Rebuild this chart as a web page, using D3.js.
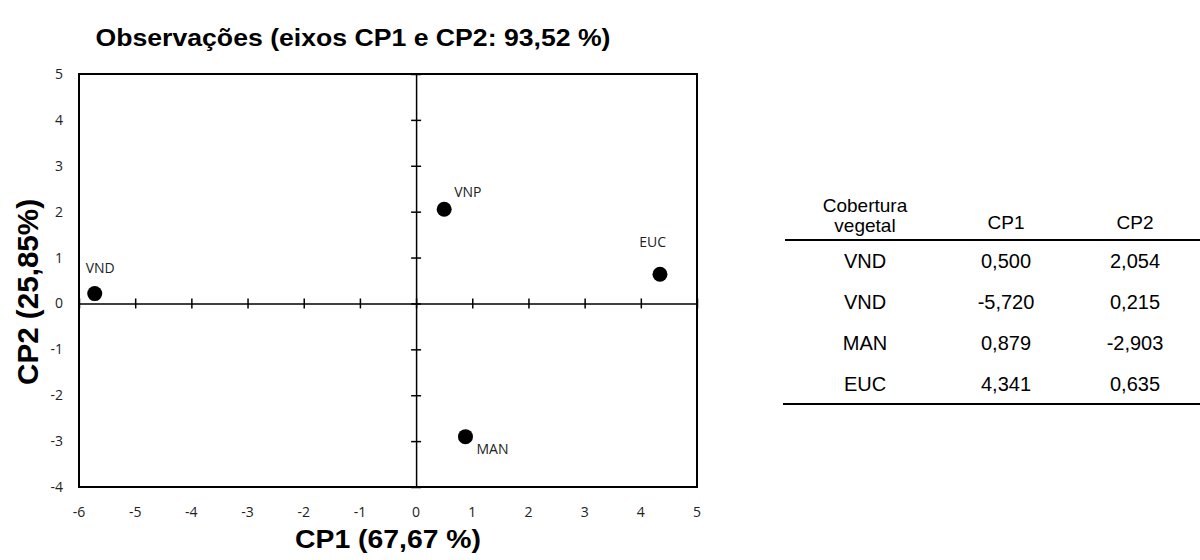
<!DOCTYPE html>
<html>
<head>
<meta charset="utf-8">
<script src="https://cdn.jsdelivr.net/npm/d3@7/dist/d3.min.js"></script>
<style>
  html, body { margin: 0; padding: 0; background: #fff; }
  svg { display: block; }
</style>
</head>
<body>
<svg id="chart" width="1200" height="560"></svg>
<script>
// PCA scores of the vegetation covers on the first two components
const labels = ["VNP", "VND", "MAN", "EUC"];
const cp1 = [0.500, -5.720, 0.879, 4.341];
const cp2 = [2.054, 0.215, -2.903, 0.635];

// table rows (as printed beside the plot)
const tableNames = ["VND", "VND", "MAN", "EUC"];
const tableHeader = ["Cobertura vegetal", "CP1", "CP2"];

const xTicks = [-6, -5, -4, -3, -2, -1, 0, 1, 2, 3, 4, 5];
const yTicks = [-4, -3, -2, -1, 0, 1, 2, 3, 4, 5];

const titleText = "Observações (eixos CP1 e CP2: 93,52 %)";
const xTitle = "CP1 (67,67 %)";
const yTitle = "CP2 (25,85%)";

const svg = d3.select("#chart");
const plot = { left: 79, right: 697, top: 74, bottom: 487 };

const x = d3.scaleLinear().domain([-6, 5]).range([plot.left, plot.right]);
const y = d3.scaleLinear().domain([-4, 5]).range([plot.bottom, plot.top]);

const tickFont = "'Open Sans', 'Noto Sans', sans-serif";
const boldFont = "'Liberation Sans', Arial, sans-serif";

// frame
svg.append("rect")
  .attr("x", x(-6)).attr("y", y(5))
  .attr("width", x(5) - x(-6)).attr("height", y(-4) - y(5))
  .attr("fill", "none").attr("stroke", "#000").attr("stroke-width", 2);

// axes through the origin, with crossing tick marks
const xAxis = d3.axisBottom(x).tickValues(xTicks).tickSizeInner(5).tickSizeOuter(0).tickFormat("");
const yAxis = d3.axisLeft(y).tickValues(yTicks).tickSizeInner(5).tickSizeOuter(0).tickFormat("");

function crossTicks(g) {
  g.select(".domain").attr("stroke", "#000").attr("stroke-width", 1.5);
  g.selectAll(".tick line").attr("stroke", "#000").attr("stroke-width", 1.5);
}

const gx = svg.append("g").attr("transform", `translate(0,${y(0)})`).call(xAxis).call(crossTicks);
gx.selectAll(".tick line").attr("y1", -5).attr("y2", 5);
const gy = svg.append("g").attr("transform", `translate(${x(0)},0)`).call(yAxis).call(crossTicks);
gy.selectAll(".tick line").attr("x1", -5).attr("x2", 5);

// tick labels along the frame
svg.append("g").selectAll("text").data(xTicks).join("text")
  .attr("x", d => x(d)).attr("y", plot.bottom + 30)
  .attr("text-anchor", "middle")
  .attr("font-family", tickFont).attr("font-size", 14).attr("fill", "#222")
  .text(d => d3.format("d")(d).replace("−", "-"));

svg.append("g").selectAll("text").data(yTicks).join("text")
  .attr("x", plot.left - 16).attr("y", d => y(d) + 5)
  .attr("text-anchor", "end")
  .attr("font-family", tickFont).attr("font-size", 14).attr("fill", "#222")
  .text(d => d3.format("d")(d).replace("−", "-"));

// points
const pts = labels.map((l, i) => ({ label: l, cx: cp1[i], cy: cp2[i] }));
svg.append("g").selectAll("circle").data(pts).join("circle")
  .attr("cx", d => x(d.cx)).attr("cy", d => y(d.cy))
  .attr("r", 7.5).attr("fill", "#000");

// point labels
const labelOffset = {
  VNP: { dx: 10, dy: -12, anchor: "start" },
  VND: { dx: -9, dy: -21, anchor: "start" },
  MAN: { dx: 11, dy: 17, anchor: "start" },
  EUC: { dx: 6, dy: -27, anchor: "end" }
};
svg.append("g").selectAll("text").data(pts).join("text")
  .attr("x", d => x(d.cx) + labelOffset[d.label].dx)
  .attr("y", d => y(d.cy) + labelOffset[d.label].dy)
  .attr("text-anchor", d => labelOffset[d.label].anchor)
  .attr("font-family", tickFont).attr("font-size", 14).attr("fill", "#222")
  .text(d => d.label);

// titles
svg.append("text")
  .attr("x", 353).attr("y", 46)
  .attr("text-anchor", "middle")
  .attr("font-family", boldFont).attr("font-weight", "bold").attr("font-size", 23)
  .attr("textLength", 515).attr("lengthAdjust", "spacingAndGlyphs")
  .text(titleText);

svg.append("text")
  .attr("x", x(-0.5)).attr("y", 548)
  .attr("text-anchor", "middle")
  .attr("font-family", boldFont).attr("font-weight", "bold").attr("font-size", 26)
  .attr("textLength", 186).attr("lengthAdjust", "spacingAndGlyphs")
  .text(xTitle);

svg.append("text")
  .attr("transform", `translate(38,${y(0.25)}) rotate(-90)`)
  .attr("text-anchor", "middle")
  .attr("font-family", boldFont).attr("font-weight", "bold").attr("font-size", 29)
  .attr("textLength", 186).attr("lengthAdjust", "spacingAndGlyphs")
  .text(yTitle);

// table of scores
const tableFont = "'Liberation Sans', Arial, sans-serif";
const colX = [865, 1006, 1135];
const headerLine = 240, bottomLine = 404;
const rowH = (bottomLine - headerLine) / tableNames.length;
const fmt = v => d3.format(".3f")(v).replace("−", "-").replace(".", ",");

const tbl = svg.append("g").attr("font-family", tableFont).attr("font-size", 20).attr("fill", "#000");
const hdr = tbl.append("g").attr("font-size", 19);
hdr.append("text").attr("x", colX[0]).attr("y", 212).attr("text-anchor", "middle").text("Cobertura");
hdr.append("text").attr("x", colX[0]).attr("y", 232).attr("text-anchor", "middle").text("vegetal");
hdr.append("text").attr("x", colX[1]).attr("y", 229).attr("text-anchor", "middle").text(tableHeader[1]);
hdr.append("text").attr("x", colX[2]).attr("y", 229).attr("text-anchor", "middle").text(tableHeader[2]);

const rows = tableNames.map((n, i) => [n, fmt(cp1[i]), fmt(cp2[i])]);
rows.forEach((r, i) => {
  const yy = headerLine + rowH * (i + 0.5) + 7;
  r.forEach((c, j) => {
    tbl.append("text").attr("x", colX[j]).attr("y", yy).attr("text-anchor", "middle").text(c);
  });
});

tbl.append("line").attr("x1", 785).attr("x2", 1200).attr("y1", headerLine).attr("y2", headerLine)
  .attr("stroke", "#000").attr("stroke-width", 2);
tbl.append("line").attr("x1", 783).attr("x2", 1200).attr("y1", bottomLine).attr("y2", bottomLine)
  .attr("stroke", "#000").attr("stroke-width", 2);
</script>
</body>
</html>
